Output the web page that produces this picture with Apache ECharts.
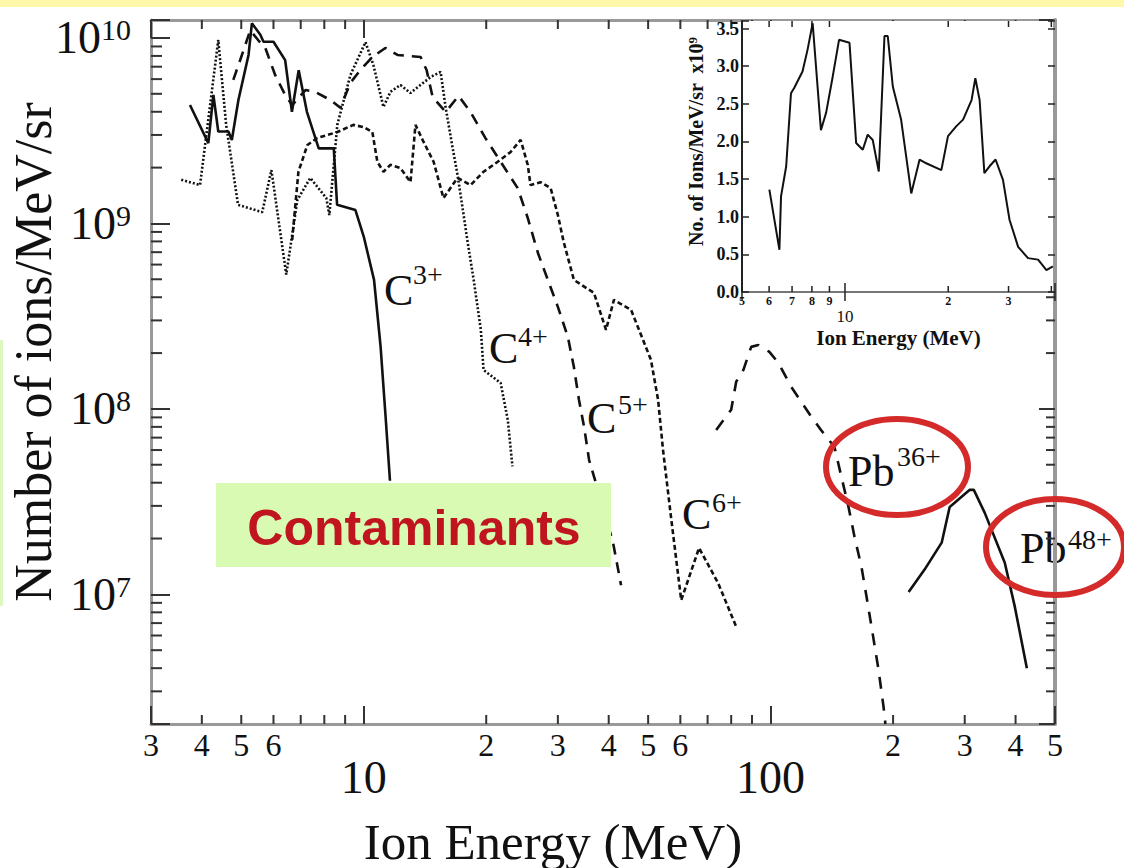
<!DOCTYPE html>
<html>
<head>
<meta charset="utf-8">
<title>Ion energy spectra</title>
<script src="https://cdn.jsdelivr.net/npm/echarts@6/dist/echarts.min.js"></script>
<style>
  html, body { margin: 0; padding: 0; background: #fff; }
  #chart { width: 1124px; height: 868px; }
</style>
</head>
<body>
<div id="chart"></div>
<script>
// spectra: [ion energy (MeV), ions/MeV/sr]
const c3 = [[3.74,4.35e9],[4.15,2.71e9],[4.27,4.93e9],[4.39,3.13e9],[4.65,3.13e9],[4.74,2.82e9],[4.92,4.63e9],[5.21,8.1e9],[5.31,1.2e10],[5.57,1.04e10],[5.67,9.55e9],[6.0,9.55e9],[6.41,7.6e9],[6.66,4.0e9],[6.92,6.7e9],[7.25,4.0e9],[7.75,2.54e9],[8.44,2.54e9],[8.6,1.26e9],[9.54,1.18e9],[10.0,8.5e8],[10.6,4.96e8],[11.0,2.17e8],[11.3,9.5e7],[11.6,4.1e7]];
const c4 = [[3.56,1.72e9],[3.96,1.61e9],[4.39,9.75e9],[4.59,3.4e9],[4.91,1.26e9],[5.63,1.15e9],[5.93,1.94e9],[6.45,5.3e8],[6.87,1.34e9],[7.39,1.76e9],[8.09,1.37e9],[8.23,1.11e9],[8.61,3.4e9],[9.27,6.3e9],[10.1,9.5e9],[10.56,7.15e9],[11.18,4.25e9],[11.63,5.12e9],[12.31,5.58e9],[13.03,5.05e9],[14.6,6.16e9],[15.45,6.56e9],[15.9,4.2e9],[16.54,2.55e9],[17.0,1.83e9],[17.6,1.11e9],[18.0,7.95e8],[18.63,4.96e8],[19.4,2.67e8],[19.7,1.62e8],[21.7,1.38e8],[22.6,8.7e7],[23.2,4.9e7]];
const c5 = [[4.78,5.94e9],[4.97,7.61e9],[5.26,1.1e10],[5.5,9.75e9],[5.73,8.83e9],[6.06,6.3e9],[6.41,4.93e9],[6.67,4.35e9],[7.19,5.24e9],[7.6,5.12e9],[8.28,4.63e9],[8.76,4.2e9],[9.27,5.72e9],[9.81,6.72e9],[10.5,7.9e9],[11.3,8.83e9],[12.1,8.1e9],[13.8,7.9e9],[14.27,6.72e9],[14.77,4.8e9],[15.9,3.99e9],[17.1,4.87e9],[18.3,3.99e9],[19.9,2.89e9],[21.7,2.15e9],[23.9,1.55e9],[25.3,1.07e9],[26.8,6.93e8],[28.35,4.96e8],[30.0,3.55e8],[31.75,2.44e8],[32.85,1.68e8],[33.8,1.12e8],[34.8,8.0e7],[35.8,5.3e7],[37.2,3.99e7],[41.0,1.9e7],[42.9,1.12e7]];
const c6 = [[6.67,8.15e8],[6.91,1.9e9],[7.27,2.65e9],[7.69,2.89e9],[8.61,3.11e9],[9.43,3.4e9],[9.98,3.31e9],[10.5,3.11e9],[10.8,2.15e9],[11.18,1.9e9],[11.63,2.07e9],[12.31,1.99e9],[13.03,1.67e9],[13.4,3.4e9],[14.03,2.75e9],[14.85,2.15e9],[15.7,1.37e9],[17.0,1.76e9],[18.3,1.61e9],[19.7,1.9e9],[21.35,2.15e9],[22.97,2.43e9],[24.3,2.82e9],[25.3,2.07e9],[25.7,1.61e9],[27.2,1.67e9],[28.8,1.55e9],[30.0,1.11e9],[31.0,7.95e8],[32.85,4.96e8],[36.8,4.22e8],[39.4,2.67e8],[41.2,3.87e8],[45.4,3.42e8],[50.8,1.84e8],[52.9,1.12e8],[54.4,6.0e7],[56.9,2.62e7],[60.3,9.3e6],[66.7,1.78e7],[74.3,1.15e7],[82.3,6.7e6]];
const pb36 = [[73.5,7.7e7],[80.0,9.9e7],[82.3,1.4e8],[85.7,1.62e8],[89.6,2.16e8],[93.3,2.21e8],[99.3,2.03e8],[104.5,1.77e8],[112.5,1.31e8],[126,9.05e7],[133,7.7e7],[143.5,6.24e7],[149.3,4.3e7],[155.4,2.96e7],[160.8,2.04e7],[167.2,1.41e7],[172.1,9.7e6],[177,6.7e6],[184.2,3.92e6],[189.5,2.47e6],[191.5,2.0e6]];
const pb48 = [[218.4,1.03e7],[239,1.36e7],[263.3,1.9e7],[275.5,2.96e7],[308.7,3.66e7],[315.8,3.66e7],[336,2.75e7],[376.3,1.48e7],[398.4,8.56e6],[426.4,4.0e6]];

// inset: [ion energy (MeV), ions/MeV/sr in units of 1e9]
const insetSpectrum = [[6.01,1.36],[6.43,0.56],[6.5,1.27],[6.73,1.67],[6.95,2.64],[7.1,2.71],[7.51,2.93],[7.77,3.22],[8.04,3.57],[8.5,2.15],[8.8,2.38],[9.2,2.86],[9.6,3.35],[10.3,3.31],[10.77,1.98],[11.26,1.89],[11.64,2.09],[12.04,2.02],[12.54,1.6],[13.03,3.4],[13.32,3.4],[13.78,2.73],[14.57,2.29],[15.6,1.31],[16.5,1.76],[17.25,1.71],[19.1,1.62],[19.97,2.07],[21.1,2.2],[22.1,2.29],[23.4,2.55],[24.0,2.84],[24.7,2.55],[25.5,1.58],[26.4,1.67],[27.5,1.76],[28.9,1.49],[30.2,0.96],[32.0,0.6],[34.2,0.45],[36.6,0.43],[38.7,0.29],[40.4,0.34]];

// axis ranges and minor ticks
const xRange = [3, 500];
const yRange = [2e6, 1.25e10];
const xMinorTicks = [3,4,5,6,7,8,9,20,30,40,50,60,70,80,90,200,300,400,500];
const xMinorLabels = ['3','4','5','6','','','','2','3','4','5','6','','','','2','3','4','5'];
const yMinorTicks = [3e6,4e6,5e6,6e6,7e6,8e6,9e6,2e7,3e7,4e7,5e7,6e7,7e7,8e7,9e7,2e8,3e8,4e8,5e8,6e8,7e8,8e8,9e8,2e9,3e9,4e9,5e9,6e9,7e9,8e9,9e9];
const insetXRange = [5, 41];
const insetYRange = [0, 3.6];
const insetXTicks = [5,6,7,8,9,20,30,40];
const insetXLabels = ['5','6','7','8','9','2','3',''];

const serif = 'Liberation Serif';
const ink = '#111';
const tickStyle = { stroke: '#333', lineWidth: 2 };

function isPow10(v) {
  const l = Math.log10(v);
  return Math.abs(l - Math.round(l)) < 1e-6;
}

function mainXTick(params, api) {
  const v = api.value(0);
  const b = api.coord([v, yRange[0]]);
  const t = api.coord([v, yRange[1]]);
  return {
    type: 'group',
    children: [
      { type: 'line', shape: { x1: b[0], y1: b[1], x2: b[0], y2: b[1] - 9 }, style: tickStyle },
      { type: 'line', shape: { x1: t[0], y1: t[1], x2: t[0], y2: t[1] + 9 }, style: tickStyle },
      { type: 'text', x: b[0], y: b[1] + 5, style: { text: xMinorLabels[params.dataIndex], fontSize: 32, fontFamily: serif, fill: ink, align: 'center', verticalAlign: 'top' } }
    ]
  };
}

function mainYTick(params, api) {
  const v = api.value(1);
  const l = api.coord([xRange[0], v]);
  const r = api.coord([xRange[1], v]);
  return {
    type: 'group',
    children: [
      { type: 'line', shape: { x1: l[0], y1: l[1], x2: l[0] + 11, y2: l[1] }, style: tickStyle },
      { type: 'line', shape: { x1: r[0], y1: r[1], x2: r[0] - 9, y2: r[1] }, style: tickStyle }
    ]
  };
}

function insetXTick(params, api) {
  const v = api.value(0);
  const b = api.coord([v, insetYRange[0]]);
  const t = api.coord([v, insetYRange[1]]);
  return {
    type: 'group',
    children: [
      { type: 'line', shape: { x1: b[0], y1: b[1], x2: b[0], y2: b[1] - 6 }, style: { stroke: '#222', lineWidth: 1.5 } },
      { type: 'line', shape: { x1: t[0], y1: t[1], x2: t[0], y2: t[1] + 6 }, style: { stroke: '#222', lineWidth: 1.5 } },
      { type: 'text', x: b[0], y: b[1] + 3, style: { text: insetXLabels[params.dataIndex], fontSize: 12, fontWeight: 'bold', fontFamily: serif, fill: ink, align: 'center', verticalAlign: 'top' } }
    ]
  };
}

function spectrum(name, data, dash, width) {
  return {
    name: name, type: 'line', data: data, xAxisIndex: 0, yAxisIndex: 0,
    symbol: 'none', silent: true,
    lineStyle: { color: ink, width: width, type: dash }
  };
}

function ionLabel(base, sup, bx, by, sx, sy, size, supSize) {
  return {
    type: 'group', z: 20, children: [
      { type: 'text', x: bx, y: by, style: { text: base, fontSize: size, fontFamily: serif, fill: ink, align: 'left', verticalAlign: 'middle' } },
      { type: 'text', x: sx, y: sy, style: { text: sup, fontSize: supSize, fontFamily: serif, fill: ink, align: 'left', verticalAlign: 'middle' } }
    ]
  };
}

const chart = echarts.init(document.getElementById('chart'), null, { renderer: 'svg' });

chart.setOption({
  animation: false,
  backgroundColor: '#fff',
  textStyle: { fontFamily: serif },
  grid: [
    { left: 151, top: 20, right: 69, bottom: 144, outerBoundsMode: 'none', containLabel: false },
    { left: 742, top: 21, right: 69, bottom: 576, outerBoundsMode: 'none', containLabel: false, show: true, backgroundColor: '#fff', borderWidth: 0, z: 5 }
  ],
  xAxis: [
    {
      type: 'log', logBase: 10, min: xRange[0], max: xRange[1], gridIndex: 0,
      axisLine: { lineStyle: { color: '#999', width: 3 } },
      axisTick: { inside: true, length: 18, lineStyle: { color: '#333', width: 2 } },
      axisLabel: { margin: 30, fontSize: 46, fontFamily: serif, color: ink, formatter: v => isPow10(v) ? String(Math.round(v)) : '' },
      splitLine: { show: false },
      name: 'Ion Energy (MeV)', nameLocation: 'middle', nameGap: 92, nameMoveOverlap: false,
      nameTextStyle: { fontSize: 51, fontFamily: serif, color: ink, padding: [0, 100, 0, 0] }
    },
    {
      type: 'log', logBase: 10, min: xRange[0], max: xRange[1], gridIndex: 0, position: 'top',
      axisLine: { lineStyle: { color: '#999', width: 3 } },
      axisTick: { inside: true, length: 18, lineStyle: { color: '#333', width: 2 } },
      axisLabel: { show: false }, splitLine: { show: false }
    },
    {
      type: 'log', logBase: 10, min: insetXRange[0], max: insetXRange[1], gridIndex: 1, z: 6,
      axisLine: { lineStyle: { color: '#222', width: 2 } },
      axisTick: { inside: true, length: 9, lineStyle: { color: '#222', width: 1.5 } },
      axisLabel: { margin: 16, fontSize: 17, fontFamily: serif, color: ink, formatter: v => isPow10(v) ? String(Math.round(v)) : '' },
      splitLine: { show: false },
      name: 'Ion Energy (MeV)', nameLocation: 'middle', nameGap: 35, nameMoveOverlap: false,
      nameTextStyle: { fontSize: 21, fontWeight: 'bold', fontFamily: serif, color: ink }
    },
    {
      type: 'log', logBase: 10, min: insetXRange[0], max: insetXRange[1], gridIndex: 1, position: 'top', z: 6,
      axisLine: { lineStyle: { color: '#777', width: 2 } },
      axisTick: { inside: true, length: 9, lineStyle: { color: '#222', width: 1.5 } },
      axisLabel: { show: false }, splitLine: { show: false }
    }
  ],
  yAxis: [
    {
      type: 'log', logBase: 10, min: yRange[0], max: yRange[1], gridIndex: 0,
      axisLine: { lineStyle: { color: '#999', width: 3 } },
      axisTick: { inside: true, length: 19, lineStyle: { color: '#333', width: 2 } },
      axisLabel: {
        margin: 20, color: ink, fontFamily: serif,
        formatter: v => isPow10(v) ? '{b|10}{s|' + Math.round(Math.log10(v)) + '}' : '',
        rich: {
          b: { fontSize: 46, fontFamily: serif, color: ink },
          s: { fontSize: 30, fontFamily: serif, color: ink, verticalAlign: 'top' }
        }
      },
      splitLine: { show: false },
      name: 'Number of ions/MeV/sr', nameLocation: 'middle', nameRotate: 90, nameGap: 92, nameMoveOverlap: false,
      nameTextStyle: { fontSize: 52, fontFamily: serif, color: ink, padding: [0, 0, 0, 40] }
    },
    {
      type: 'log', logBase: 10, min: yRange[0], max: yRange[1], gridIndex: 0, position: 'right',
      axisLine: { lineStyle: { color: '#999', width: 4 } },
      axisTick: { inside: true, length: 16, lineStyle: { color: '#333', width: 2 } },
      axisLabel: { show: false }, splitLine: { show: false }
    },
    {
      type: 'value', min: insetYRange[0], max: insetYRange[1], interval: 0.5, gridIndex: 1, z: 6,
      axisLine: { lineStyle: { color: '#222', width: 2 } },
      axisTick: { inside: true, length: 7, lineStyle: { color: '#222', width: 1.5 } },
      axisLabel: {
        margin: 3, fontSize: 18, fontWeight: 'bold', fontFamily: serif, color: ink,
        formatter: v => Math.abs(v * 2 - Math.round(v * 2)) < 1e-9 ? v.toFixed(1) : ''
      },
      splitLine: { show: false },
      name: 'No. of Ions/MeV/sr  x10{s|9}', nameLocation: 'middle', nameRotate: 90, nameGap: 36, nameMoveOverlap: false,
      nameTextStyle: {
        fontSize: 20, fontWeight: 'bold', fontFamily: serif, color: ink, padding: [0, 0, 0, 30],
        rich: { s: { fontSize: 13, fontWeight: 'bold', fontFamily: serif, color: ink, verticalAlign: 'top' } }
      }
    },
    {
      type: 'value', min: insetYRange[0], max: insetYRange[1], interval: 0.5, gridIndex: 1, position: 'right', z: 6,
      axisLine: { lineStyle: { color: '#999', width: 4 } },
      axisTick: { inside: true, length: 7, lineStyle: { color: '#222', width: 1.5 } },
      axisLabel: { show: false }, splitLine: { show: false }
    }
  ],
  series: [
    spectrum('C3+', c3, 'solid', 2.6),
    spectrum('C4+', c4, [2, 2], 2.6),
    spectrum('C5+', c5, [11, 8], 2.6),
    spectrum('C6+', c6, [5, 3], 2.6),
    spectrum('Pb36+', pb36, [12, 10], 2.6),
    spectrum('Pb48+', pb48, 'solid', 2.6),
    {
      name: 'x minor ticks', type: 'custom', xAxisIndex: 0, yAxisIndex: 0, silent: true,
      data: xMinorTicks.map(v => [v, yRange[0]]), renderItem: mainXTick
    },
    {
      name: 'y minor ticks', type: 'custom', xAxisIndex: 0, yAxisIndex: 0, silent: true,
      data: yMinorTicks.map(v => [xRange[0], v]), renderItem: mainYTick
    },
    {
      name: 'inset spectrum', type: 'line', xAxisIndex: 2, yAxisIndex: 2, z: 7,
      data: insetSpectrum, symbol: 'none', silent: true,
      lineStyle: { color: ink, width: 2 }
    },
    {
      name: 'inset x ticks', type: 'custom', xAxisIndex: 2, yAxisIndex: 2, z: 7, silent: true,
      data: insetXTicks.map(v => [v, insetYRange[0]]), renderItem: insetXTick
    }
  ],
  graphic: [
    { type: 'rect', z: 20, shape: { x: 0, y: 0, width: 1124, height: 7 }, style: { fill: '#fff8a8' } },
    { type: 'rect', z: 20, shape: { x: 0, y: 340, width: 3, height: 266 }, style: { fill: '#dcf8c0' } },
    { type: 'rect', z: 20, shape: { x: 216, y: 483, width: 395, height: 84 }, style: { fill: '#d9fab3' } },
    { type: 'text', z: 21, x: 414, y: 528, style: { text: 'Contaminants', fontSize: 50, fontWeight: 'bold', fontFamily: 'Liberation Sans', fill: '#c0141e', align: 'center', verticalAlign: 'middle' } },
    ionLabel('C', '3+', 384, 290, 413, 274, 44, 28),
    ionLabel('C', '4+', 489, 348, 518, 336, 44, 28),
    ionLabel('C', '5+', 587, 418, 618, 404, 44, 28),
    ionLabel('C', '6+', 682, 514, 712, 502, 44, 28),
    ionLabel('Pb', '36+', 848, 471, 897, 456, 44, 28),
    ionLabel('Pb', '48+', 1020, 548, 1068, 539, 44, 28),
    { type: 'ellipse', z: 22, shape: { cx: 897, cy: 467, rx: 71, ry: 48 }, style: { fill: 'none', stroke: '#d42a2a', lineWidth: 6 } },
    { type: 'ellipse', z: 22, shape: { cx: 1055, cy: 547, rx: 69, ry: 48 }, style: { fill: 'none', stroke: '#d42a2a', lineWidth: 6 } }
  ]
});
</script>
</body>
</html>
